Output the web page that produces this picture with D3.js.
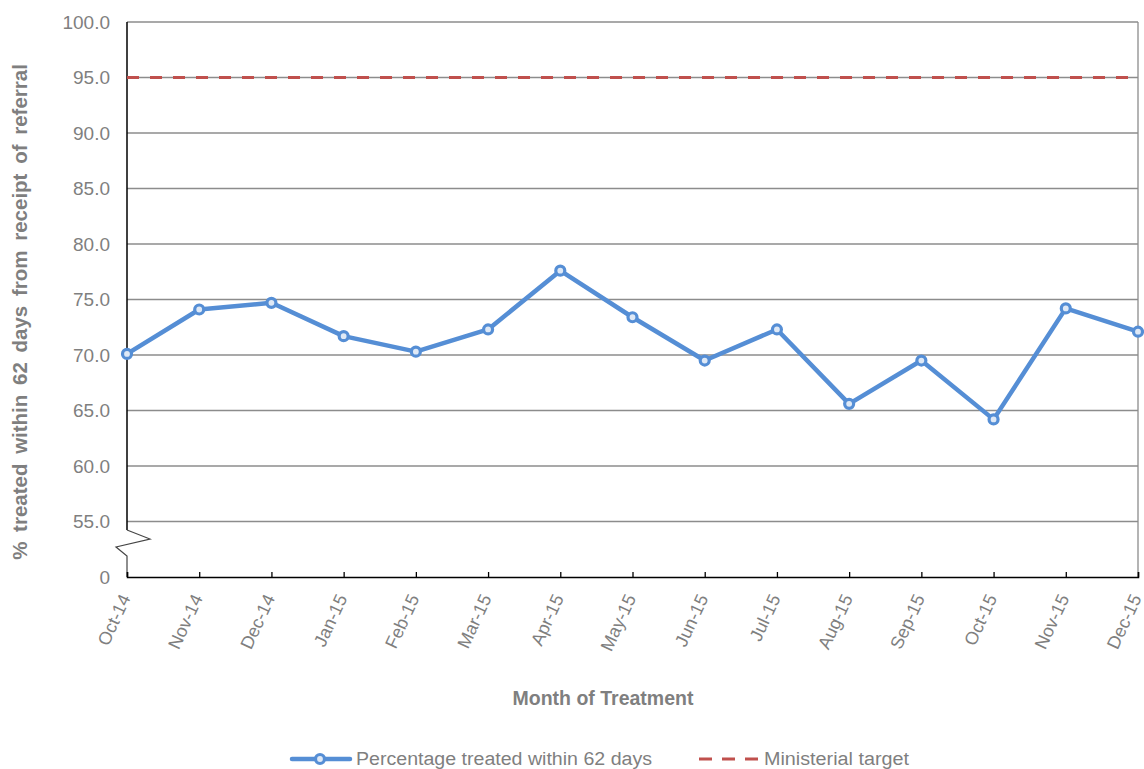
<!DOCTYPE html>
<html><head><meta charset="utf-8">
<script src="https://cdn.jsdelivr.net/npm/d3@7"></script>
<style>body{margin:0;background:#fff;} text{font-family:"Liberation Sans",Arial,sans-serif;}</style>
</head><body>
<svg id="c" width="1144" height="769"></svg>
<script>
const months = ["Oct-14","Nov-14","Dec-14","Jan-15","Feb-15","Mar-15","Apr-15","May-15","Jun-15","Jul-15","Aug-15","Sep-15","Oct-15","Nov-15","Dec-15"];
const pctTreated = [70.1,74.1,74.7,71.7,70.3,72.3,77.6,73.4,69.5,72.3,65.6,69.5,64.2,74.2,72.1];
const target = 95;
const yTicks = [50,55,60,65,70,75,80,85,90,95,100];
const yTickLabels = ["0","55.0","60.0","65.0","70.0","75.0","80.0","85.0","90.0","95.0","100.0"];

const svg = d3.select("#c");
const L=127, R=1138, T=22, B=577;
const x = d3.scalePoint().domain(months).range([L,R]);
const y = d3.scaleLinear().domain([50,100]).range([B,T]);
const gray="#7f7f7f", grid="#8c8c8c";

// gridlines
svg.append("g").selectAll("line").data(yTicks.slice(1)).join("line")
  .attr("x1",L).attr("x2",R).attr("y1",d=>y(d)).attr("y2",d=>y(d))
  .attr("stroke",grid).attr("stroke-width",1.3);
// right border
svg.append("line").attr("x1",R).attr("x2",R).attr("y1",T).attr("y2",B).attr("stroke",grid).attr("stroke-width",1.3);

// y axis labels
svg.append("g").selectAll("text").data(yTicks).join("text")
  .attr("x",110).attr("y",d=>y(d)).attr("dy","0.36em").attr("text-anchor","end")
  .attr("font-size",19).attr("fill",gray).text((d,i)=>yTickLabels[i]);

// left axis with break
svg.append("path").attr("fill","none").attr("stroke","#000").attr("stroke-width",1.5)
  .attr("d",`M${L},${T}V530`);
svg.append("path").attr("fill","none").attr("stroke","#444").attr("stroke-width",1.2)
  .attr("d",`M${L},530L150,539L116,547L${L},556V${B}`);

// bottom axis
const xAxis = d3.axisBottom(x).tickSize(-5).tickFormat("");
const gx = svg.append("g").attr("transform",`translate(0,${B})`).call(xAxis);
gx.select(".domain").attr("stroke","#000").attr("stroke-width",1.5);
gx.selectAll(".tick line").attr("stroke","#000").attr("stroke-width",1.3);
svg.append("g").selectAll("text").data(months).join("text")
  .attr("transform",d=>`translate(${x(d)+4},${B+21}) rotate(-65)`)
  .attr("text-anchor","end")
  .attr("font-size",18).attr("fill",gray).text(d=>d);

// target
svg.append("line").attr("x1",L).attr("x2",R).attr("y1",y(target)).attr("y2",y(target))
  .attr("stroke","#c0504d").attr("stroke-width",3.2).attr("stroke-dasharray","12,11");

// series
const blue="#558ed5";
svg.append("path").datum(pctTreated).attr("fill","none").attr("stroke",blue).attr("stroke-width",4.5)
  .attr("stroke-linejoin","round")
  .attr("d",d3.line().x((d,i)=>x(months[i])).y(d=>y(d)));
svg.append("g").selectAll("circle").data(pctTreated).join("circle")
  .attr("cx",(d,i)=>x(months[i])).attr("cy",d=>y(d)).attr("r",4.5)
  .attr("fill","#dfe9f6").attr("stroke",blue).attr("stroke-width",3.2);

// axis titles
svg.append("text").attr("transform",`translate(27,312) rotate(-90)`)
  .attr("text-anchor","middle").attr("font-size",20.5).attr("font-weight","bold").attr("fill",gray)
  .attr("word-spacing",4)
  .text("% treated within 62 days from receipt of referral");
svg.append("text").attr("x",603).attr("y",705).attr("text-anchor","middle")
  .attr("font-size",19.5).attr("font-weight","bold").attr("fill",gray).text("Month of Treatment");

// legend
const lg = svg.append("g");
lg.append("line").attr("x1",292).attr("x2",350).attr("y1",759).attr("y2",759).attr("stroke",blue).attr("stroke-width",4.5).attr("stroke-linecap","round");
lg.append("circle").attr("cx",320).attr("cy",759).attr("r",4.5).attr("fill","#dfe9f6").attr("stroke",blue).attr("stroke-width",3.2);
lg.append("text").attr("x",356).attr("y",759).attr("dy","0.36em").attr("font-size",18).attr("fill",gray)
  .attr("textLength",296).attr("lengthAdjust","spacingAndGlyphs").text("Percentage treated within 62 days");
lg.append("line").attr("x1",699).attr("x2",758).attr("y1",759).attr("y2",759).attr("stroke","#c0504d").attr("stroke-width",3.2).attr("stroke-dasharray","13,10");
lg.append("text").attr("x",764).attr("y",759).attr("dy","0.36em").attr("font-size",18).attr("fill",gray)
  .attr("textLength",145).attr("lengthAdjust","spacingAndGlyphs").text("Ministerial target");
</script>
</body></html>
